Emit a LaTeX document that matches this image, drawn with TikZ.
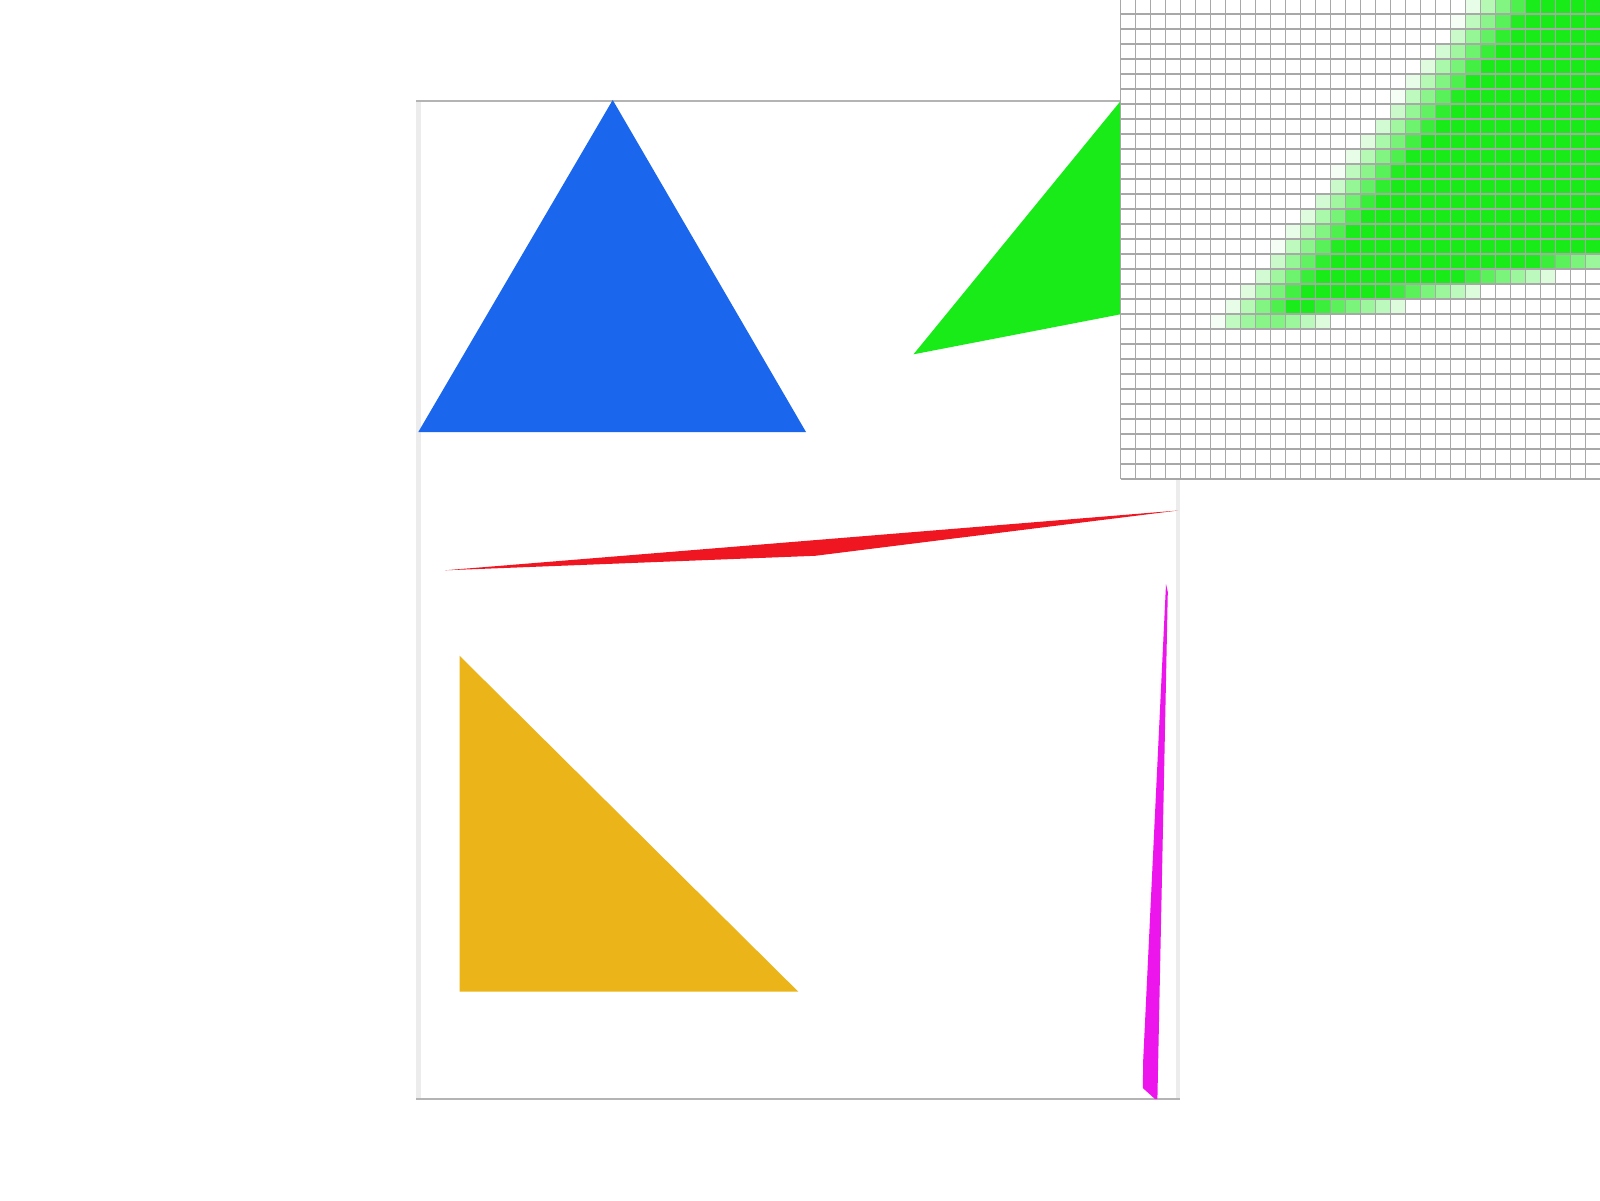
\documentclass[tikz,border=0pt]{standalone}
\definecolor{bluetri}{RGB}{26,102,236}
\definecolor{greentri}{RGB}{24,235,24}
\definecolor{redtri}{RGB}{239,22,34}
\definecolor{yellowtri}{RGB}{235,180,24}
\definecolor{magtri}{RGB}{236,22,236}
\definecolor{framebar}{RGB}{236,236,236}
\definecolor{frameline}{RGB}{180,180,180}
\definecolor{gridline}{RGB}{168,168,168}
\begin{document}
\begin{tikzpicture}[x=0.5pt,y=-0.5pt,
  frameedge/.style={draw=frameline,line width=0.6pt},
  barfill/.style={fill=framebar},
  gridstroke/.style={draw=gridline,line width=0.55pt}]
\useasboundingbox (0,0) rectangle (1600,1200);
\fill[white] (0,0) rectangle (1600,1200);
% canvas frame
\fill[barfill] (416,101) rectangle (420.5,1099);
\fill[barfill] (1176,101) rectangle (1180,1099);
\draw[frameedge] (416,101) -- (1180,101);
\draw[frameedge] (416,1099) -- (1180,1099);
% shapes
\fill[bluetri] (612.7,100) -- (418.3,432) -- (806,432) -- cycle;
\fill[greentri] (913.5,354.3) -- (1121,100.5) -- (1121,314.2) -- cycle;
\fill[redtri] (445,570.3) -- (1178,510.5) -- (815,555.8) -- cycle;
\fill[yellowtri] (459.5,655.7) -- (798.3,991.7) -- (459.5,991.7) -- cycle;
\fill[magtri] (1166,584) -- (1167.8,592) -- (1157.4,1099) -- (1155,1099) -- (1142.8,1088) -- (1143.2,1060) -- cycle;
% magnifier panel
\fill[white] (1120.7,-1) rectangle (1600,479);
\foreach \i in {0,...,31}{
  \foreach \j in {0,...,21}{
    \pgfmathsetmacro\cl{max(0,min(1,0.5+((\i+0.5)-(25.7-0.8*(\j+0.5)))*0.781/3.5))}
    \pgfmathsetmacro\cb{max(0,min(1,0.5+((23.7-0.2*(\i+0.5))-(\j+0.5))*0.98/1.4))}
    \pgfmathtruncatemacro\p{round(100*\cl*\cb)}
    \ifnum\p>3
      \fill[greentri!\p!white] (1120.7+15*\i,-1+15*\j) rectangle ++(15,15);
    \fi
  }
}
\foreach \k in {0,...,32}{
  \draw[gridstroke] (1120.7+15*\k,-1) -- (1120.7+15*\k,479);
  \draw[gridstroke] (1120.7,-1+15*\k) -- (1601,-1+15*\k);
}
\end{tikzpicture}
\end{document}
